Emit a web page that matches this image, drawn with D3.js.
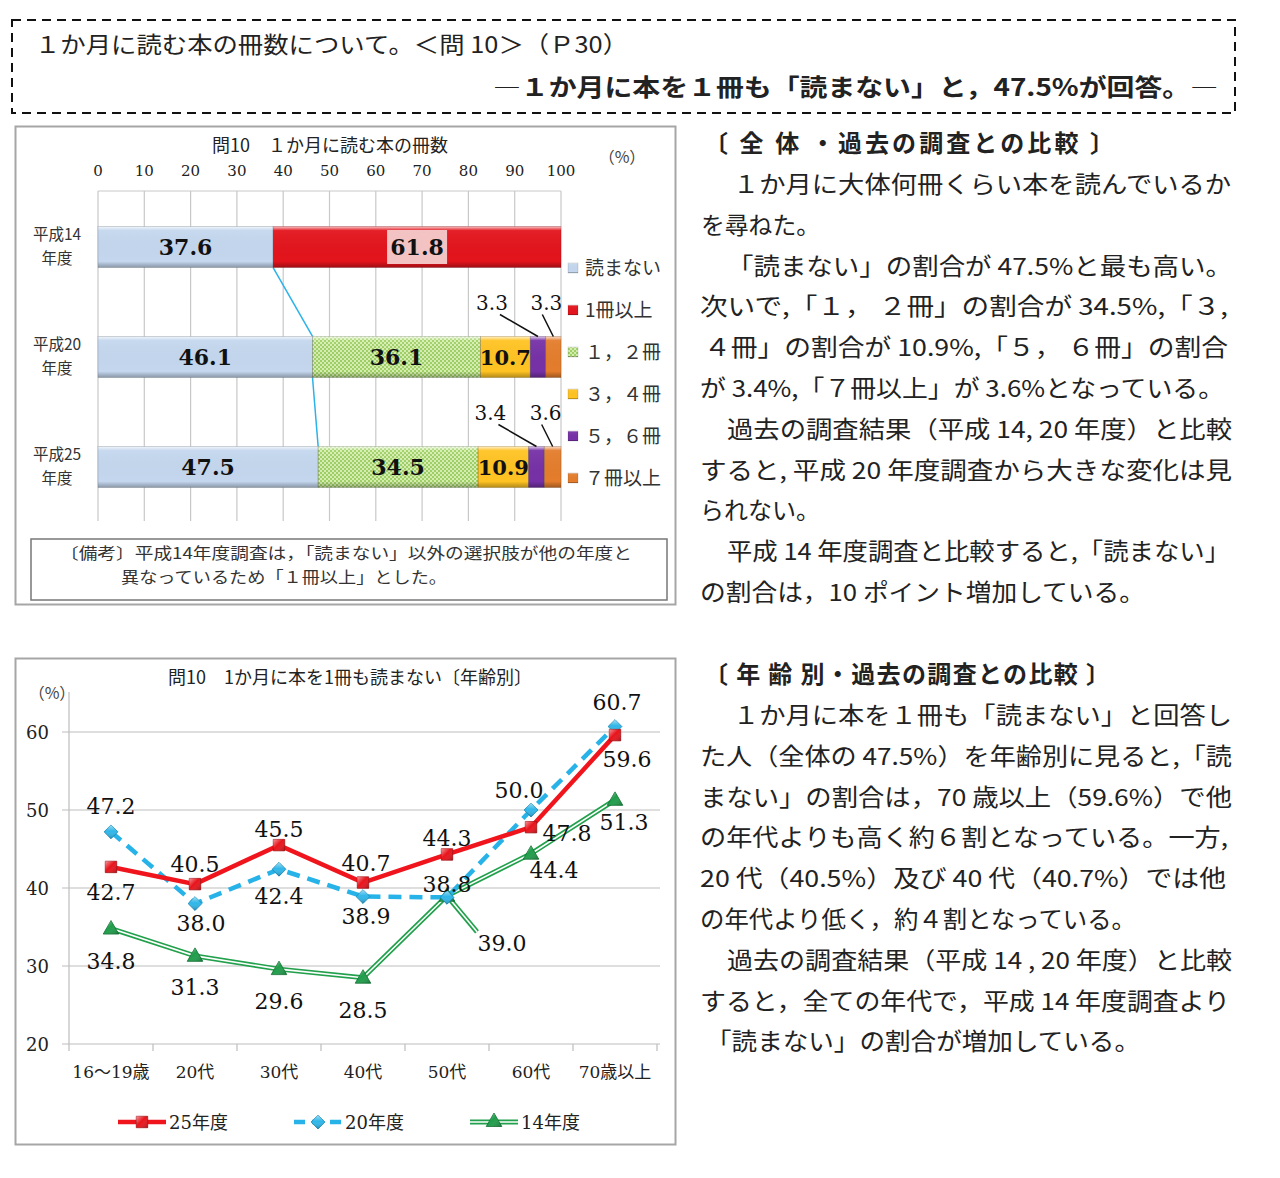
<!DOCTYPE html>
<html><head><meta charset="utf-8">
<script src="https://cdn.jsdelivr.net/npm/d3@7"></script>
<style>body{margin:0;background:#fff}</style>
</head><body>
<svg id="c" width="1280" height="1178" xmlns="http://www.w3.org/2000/svg"></svg>
<script>
// ---------------- data ----------------
const barYears = ["平成14", "平成20", "平成25"];
const barSeries = ["読まない", "1冊以上", "１，２冊", "３，４冊", "５，６冊", "７冊以上"];
const barH14 = [37.6, 61.8, 0, 0, 0, 0];
const barH20 = [46.1, 0, 36.1, 10.7, 3.3, 3.3];
const barH25 = [47.5, 0, 34.5, 10.9, 3.4, 3.6];
const barTicks = [0, 10, 20, 30, 40, 50, 60, 70, 80, 90, 100];

const ageGroups = ["16～19歳", "20代", "30代", "40代", "50代", "60代", "70歳以上"];
const lineSeries = ["25年度", "20年度", "14年度"];
const nonRead25 = [42.7, 40.5, 45.5, 40.7, 44.3, 47.8, 59.6];
const nonRead20 = [47.2, 38.0, 42.4, 38.9, 38.8, 50.0, 60.7];
const nonRead14 = [34.8, 31.3, 29.6, 28.5, 39.0, 44.4, 51.3];
const lineTicks = [20, 30, 40, 50, 60];

// ---------------- setup ----------------
const svg = d3.select("#c");
const JP = "'Noto Sans CJK JP','Noto Sans',sans-serif";
const SERIF = "'DejaVu Serif','Noto Sans CJK JP',serif";
const INK = "#222";
const defs = svg.append("defs");

const sh = defs.append("linearGradient").attr("id", "shade").attr("x1", 0).attr("y1", 0).attr("x2", 0).attr("y2", 1);
[[0, "#fff", 0.75], [0.1, "#fff", 0.05], [0.85, "#000", 0], [1, "#000", 0.3]].forEach(s =>
  sh.append("stop").attr("offset", s[0]).attr("stop-color", s[1]).attr("stop-opacity", s[2]));
const pat = defs.append("pattern").attr("id", "chk").attr("width", 4).attr("height", 4).attr("patternUnits", "userSpaceOnUse");
pat.append("rect").attr("width", 4).attr("height", 4).attr("fill", "#d6efb0");
pat.append("rect").attr("width", 2).attr("height", 2).attr("fill", "#9fd067");
pat.append("rect").attr("x", 2).attr("y", 2).attr("width", 2).attr("height", 2).attr("fill", "#9fd067");

const barColors = ["#c4d7ee", "#e3141c", "url(#chk)", "#ffc323", "#7631a6", "#e47d2c"];
const barRows = [barH14, barH20, barH25];

// ---------------- header ----------------
svg.append("rect").attr("x", 12).attr("y", 20).attr("width", 1223).attr("height", 93)
  .attr("fill", "none").attr("stroke", "#111").attr("stroke-width", 2).attr("stroke-dasharray", "9,6");
svg.append("text").attr("x", 35).attr("y", 53).attr("font-family", JP).attr("font-size", 23)
  .attr("fill", INK).attr("textLength", 593).attr("lengthAdjust", "spacingAndGlyphs")
  .text("１か月に読む本の冊数について。＜問 10＞（Ｐ30）");
svg.append("text").attr("x", 493).attr("y", 96).attr("font-family", JP).attr("font-size", 24)
  .attr("font-weight", "bold").attr("fill", INK).attr("textLength", 725).attr("lengthAdjust", "spacingAndGlyphs")
  .text("―１か月に本を１冊も「読まない」と，47.5%が回答。―");

// ---------------- top chart (100% stacked) ----------------
svg.append("rect").attr("x", 15.5).attr("y", 126.5).attr("width", 660).attr("height", 478)
  .attr("fill", "#fff").attr("stroke", "#a6a6a6").attr("stroke-width", 2);
svg.append("text").attr("x", 330).attr("y", 152).attr("text-anchor", "middle").attr("font-family", JP)
  .attr("font-size", 18).attr("fill", INK).text("問10　１か月に読む本の冊数");

const bx = d3.scaleLinear().domain([0, 100]).range([98, 561]);
const by = d3.scaleBand().domain(barYears).range([192, 522]).paddingInner(0.627).paddingOuter(0.3135);

const tg = svg.append("g");
tg.selectAll("line.grid").data(barTicks).join("line")
  .attr("x1", d => bx(d)).attr("x2", d => bx(d)).attr("y1", 191).attr("y2", 521)
  .attr("stroke", "#c8c8c8").attr("stroke-width", 1.2);
tg.selectAll("text.tick").data(barTicks).join("text")
  .attr("x", d => bx(d)).attr("y", 176).attr("text-anchor", "middle")
  .attr("font-family", SERIF).attr("font-size", 15).attr("fill", INK).text(d => d);
svg.append("line").attr("x1", bx(0)).attr("x2", bx(100)).attr("y1", 191).attr("y2", 191).attr("stroke", "#c8c8c8");
svg.append("text").attr("x", 622).attr("y", 163).attr("text-anchor", "middle").attr("font-family", JP)
  .attr("font-size", 16).attr("fill", "#444").text("（%）");

barYears.forEach(y => {
  const cy = by(y) + by.bandwidth() / 2;
  svg.append("text").attr("x", 57).attr("y", cy - 7).attr("text-anchor", "middle").attr("font-family", JP)
    .attr("font-size", 15.5).attr("fill", "#333").text(y);
  svg.append("text").attr("x", 57).attr("y", cy + 17).attr("text-anchor", "middle").attr("font-family", JP)
    .attr("font-size", 15.5).attr("fill", "#333").text("年度");
});

// stacked segments, normalised to 100%
const rowSegs = barRows.map(row => {
  const total = d3.sum(row);
  let cum = 0;
  return row.map((v, k) => { const s = { k, v, x0: cum / total * 100, x1: (cum + v) / total * 100 }; cum += v; return s; })
    .filter(s => s.v > 0);
});

// connector lines for 読まない
for (let i = 0; i < barRows.length - 1; i++) {
  svg.append("line")
    .attr("x1", bx(rowSegs[i][0].x1)).attr("y1", by(barYears[i]) + by.bandwidth())
    .attr("x2", bx(rowSegs[i + 1][0].x1)).attr("y2", by(barYears[i + 1]))
    .attr("stroke", "#2bb2ea").attr("stroke-width", 1.5);
}

rowSegs.forEach((segs, i) => {
  const yr = barYears[i];
  const g = svg.append("g");
  g.selectAll("rect.seg").data(segs).join("rect")
    .attr("x", s => bx(s.x0)).attr("y", by(yr)).attr("width", s => bx(s.x1) - bx(s.x0)).attr("height", by.bandwidth())
    .attr("fill", s => barColors[s.k]);
  g.selectAll("rect.sh").data(segs).join("rect")
    .attr("x", s => bx(s.x0)).attr("y", by(yr)).attr("width", s => bx(s.x1) - bx(s.x0)).attr("height", by.bandwidth())
    .attr("fill", "url(#shade)").attr("stroke", "rgba(0,0,0,0.18)").attr("stroke-width", 0.8);
  const cy = by(yr) + by.bandwidth() / 2;
  segs.forEach(s => {
    const mx = (bx(s.x0) + bx(s.x1)) / 2;
    if (s.v >= 5) {
      if (s.k === 1) {
        svg.append("rect").attr("x", mx - 30).attr("y", cy - 17).attr("width", 60).attr("height", 34).attr("fill", "#f3c3c3");
      }
      svg.append("text").attr("x", mx).attr("y", cy + 8).attr("text-anchor", "middle")
        .attr("font-family", SERIF).attr("font-weight", "bold").attr("font-size", s.v < 12 ? 21 : 22)
        .attr("fill", "#111").text(s.v.toFixed(1));
    } else {
      const lx = s.k === 4 ? mx - 46 : mx - 7;
      const ly = by(yr) - 26;
      svg.append("line").attr("x1", s.k === 4 ? lx + 8 : lx - 4).attr("y1", ly + 4).attr("x2", mx).attr("y2", by(yr))
        .attr("stroke", "#111").attr("stroke-width", 1.5);
      svg.append("text").attr("x", lx).attr("y", ly).attr("text-anchor", "middle")
        .attr("font-family", SERIF).attr("font-size", 20).attr("fill", "#111").text(s.v.toFixed(1));
    }
  });
});

barSeries.forEach((n, k) => {
  const y = 268 + k * 42;
  svg.append("rect").attr("x", 568).attr("y", y - 5).attr("width", 10).attr("height", 10).attr("fill", barColors[k]);
  svg.append("rect").attr("x", 568).attr("y", y - 5).attr("width", 10).attr("height", 10).attr("fill", "url(#shade)")
    .attr("stroke", "rgba(0,0,0,0.2)").attr("stroke-width", 0.6);
  svg.append("text").attr("x", 585).attr("y", y + 7).attr("font-family", JP).attr("font-size", 19)
    .attr("fill", "#333").text(n);
});

svg.append("rect").attr("x", 31).attr("y", 539).attr("width", 636).attr("height", 61)
  .attr("fill", "none").attr("stroke", "#777").attr("stroke-width", 1.5);
svg.append("text").attr("x", 60).attr("y", 559).attr("font-family", JP).attr("font-size", 15.5).attr("fill", "#333")
  .attr("textLength", 572).attr("lengthAdjust", "spacingAndGlyphs")
  .text("〔備考〕平成14年度調査は，「読まない」以外の選択肢が他の年度と");
svg.append("text").attr("x", 121).attr("y", 583).attr("font-family", JP).attr("font-size", 15.5).attr("fill", "#333")
  .attr("textLength", 326).attr("lengthAdjust", "spacingAndGlyphs")
  .text("異なっているため「１冊以上」とした。");

// ---------------- line chart ----------------
svg.append("rect").attr("x", 15.5).attr("y", 658.5).attr("width", 660).attr("height", 486)
  .attr("fill", "#fff").attr("stroke", "#a6a6a6").attr("stroke-width", 2);
svg.append("text").attr("x", 350).attr("y", 684).attr("text-anchor", "middle").attr("font-family", JP)
  .attr("font-size", 18).attr("fill", INK).text("問10　1か月に本を1冊も読まない〔年齢別〕");
svg.append("text").attr("x", 52).attr("y", 699).attr("text-anchor", "middle").attr("font-family", JP)
  .attr("font-size", 16).attr("fill", "#444").text("（%）");

const lx = d3.scaleBand().domain(ageGroups).range([69, 657]);
const ly = d3.scaleLinear().domain([20, 60]).range([1044, 732]);
const cx = d => lx(d) + lx.bandwidth() / 2;

svg.selectAll("line.hg").data(lineTicks.filter(t => t > 20)).join("line")
  .attr("x1", 62).attr("x2", 660).attr("y1", d => ly(d)).attr("y2", d => ly(d))
  .attr("stroke", "#bdbdbd").attr("stroke-width", 1.2);
svg.append("line").attr("x1", 69).attr("x2", 69).attr("y1", 692).attr("y2", 1044).attr("stroke", "#bdbdbd").attr("stroke-width", 1.2);
svg.append("line").attr("x1", 62).attr("x2", 660).attr("y1", 1044).attr("y2", 1044).attr("stroke", "#bdbdbd").attr("stroke-width", 1.2);
svg.selectAll("line.xt").data(ageGroups.concat(["_end"])).join("line")
  .attr("x1", (d, i) => 69 + i * lx.step()).attr("x2", (d, i) => 69 + i * lx.step())
  .attr("y1", 1044).attr("y2", 1051).attr("stroke", "#bdbdbd").attr("stroke-width", 1.2);
svg.selectAll("text.yl").data(lineTicks).join("text")
  .attr("x", 49).attr("y", d => ly(d) + 7).attr("text-anchor", "end")
  .attr("font-family", SERIF).attr("font-size", 18).attr("fill", INK).text(d => d);
svg.selectAll("text.xl").data(ageGroups).join("text")
  .attr("x", d => cx(d)).attr("y", 1078).attr("text-anchor", "middle")
  .attr("font-family", SERIF).attr("font-size", 17).attr("fill", INK).text(d => d);

const line = d3.line().x((d, i) => cx(ageGroups[i])).y(d => ly(d));

const g14 = svg.append("g");
g14.append("path").attr("d", line(nonRead14)).attr("fill", "none").attr("stroke", "#22a04c").attr("stroke-width", 5);
g14.append("path").attr("d", line(nonRead14)).attr("fill", "none").attr("stroke", "#fff").attr("stroke-width", 1.6);
const p50x = cx(ageGroups[4]), p50y = ly(nonRead14[4]);
g14.append("line").attr("x1", p50x).attr("y1", p50y).attr("x2", p50x + 30).attr("y2", p50y + 36).attr("stroke", "#22a04c").attr("stroke-width", 5);
g14.append("line").attr("x1", p50x).attr("y1", p50y).attr("x2", p50x + 30).attr("y2", p50y + 36).attr("stroke", "#fff").attr("stroke-width", 1.6);

svg.append("path").attr("d", line(nonRead20)).attr("fill", "none").attr("stroke", "#27b2e8")
  .attr("stroke-width", 4.5).attr("stroke-dasharray", "13,8");
svg.append("path").attr("d", line(nonRead25)).attr("fill", "none").attr("stroke", "#f0141c").attr("stroke-width", 4.5);

const mk = defs.append("linearGradient").attr("id", "mshade").attr("x1", 0).attr("y1", 0).attr("x2", 1).attr("y2", 1);
[[0, "#fff", 0.55], [0.45, "#fff", 0], [1, "#000", 0.25]].forEach(s =>
  mk.append("stop").attr("offset", s[0]).attr("stop-color", s[1]).attr("stop-opacity", s[2]));

function drawMarker(g, type, x, y) {
  let sym, fill, stroke, rot = 0;
  if (type === 0) { sym = d3.symbol(d3.symbolSquare, 130); fill = "#e8141c"; stroke = "#a50d12"; }
  else if (type === 1) { sym = d3.symbol(d3.symbolSquare, 95); fill = "#2fb6e8"; stroke = "#1586b5"; rot = 45; }
  else { sym = d3.symbol(d3.symbolTriangle, 105); fill = "#1f9d4a"; stroke = "#0f6e30"; }
  const tr = `translate(${x},${y}) rotate(${rot})`;
  g.append("path").attr("d", sym()).attr("transform", tr).attr("fill", fill)
    .attr("stroke", stroke).attr("stroke-width", 0.8);
  g.append("path").attr("d", sym()).attr("transform", tr).attr("fill", "url(#mshade)");
}
const allSeries = [nonRead25, nonRead20, nonRead14];
const mg = svg.append("g");
[2, 1, 0].forEach(s => allSeries[s].forEach((v, i) => drawMarker(mg, s, cx(ageGroups[i]), ly(v) + (s === 2 ? 1 : 0))));

const labelOffsets = [
  [[0, 25], [0, -20], [0, -16], [3, -20], [0, -16], [36, 6], [12, 24]],
  [[0, -26], [6, 19], [0, 27], [3, 19], [0, -13], [-12, -20], [2, -25]],
  [[0, 32], [0, 31], [0, 32], [0, 32], [55, 47], [23, 16], [9, 22]]
];
allSeries.forEach((ser, s) => ser.forEach((v, i) => {
  const o = labelOffsets[s][i];
  svg.append("text").attr("x", cx(ageGroups[i]) + o[0]).attr("y", ly(v) + o[1] + 8)
    .attr("text-anchor", "middle").attr("font-family", SERIF).attr("font-size", 22).attr("fill", "#111")
    .text(v.toFixed(1));
}));

const legX = [118, 294, 470];
lineSeries.forEach((n, s) => {
  const x0 = legX[s], y0 = 1122;
  if (s === 2) {
    svg.append("line").attr("x1", x0).attr("x2", x0 + 48).attr("y1", y0).attr("y2", y0).attr("stroke", "#22a04c").attr("stroke-width", 5);
    svg.append("line").attr("x1", x0).attr("x2", x0 + 48).attr("y1", y0).attr("y2", y0).attr("stroke", "#fff").attr("stroke-width", 1.6);
  } else {
    svg.append("line").attr("x1", x0).attr("x2", x0 + 48).attr("y1", y0).attr("y2", y0)
      .attr("stroke", s === 0 ? "#f0141c" : "#27b2e8").attr("stroke-width", 4.5)
      .attr("stroke-dasharray", s === 1 ? "11,7" : null);
  }
  drawMarker(svg, s, x0 + 24, y0);
  svg.append("text").attr("x", x0 + 51).attr("y", y0 + 7).attr("font-family", SERIF).attr("font-size", 18)
    .attr("fill", INK).text(n);
});

// ---------------- right-hand text ----------------
function heading(txt, y, w) {
  svg.append("text").attr("x", 704).attr("y", y).attr("font-family", JP).attr("font-size", 24)
    .attr("font-weight", "bold").attr("fill", INK).attr("textLength", w).attr("lengthAdjust", "spacing").text(txt);
}
function body(lines, y0) {
  lines.forEach((l, i) => {
    svg.append("text").attr("x", l[1]).attr("y", y0 + i * 40.8).attr("font-family", JP).attr("font-size", 23.5)
      .attr("fill", INK).attr("textLength", l[2] - l[1]).attr("lengthAdjust", "spacingAndGlyphs").text(l[0]);
  });
}
heading("〔 全 体 ・過去の調査との比較 〕", 152, 410);
body([
  ["１か月に大体何冊くらい本を読んでいるか", 733, 1231],
  ["を尋ねた。", 701, 820],
  ["「読まない」の割合が 47.5%と最も高い。", 727, 1232],
  ["次いで,「１， ２冊」の割合が 34.5%,「３,", 700, 1228],
  ["４冊」の割合が 10.9%,「５， ６冊」の割合", 704, 1228],
  ["が 3.4%,「７冊以上」が 3.6%となっている。", 700, 1224],
  ["過去の調査結果（平成 14, 20 年度）と比較", 727, 1232],
  ["すると, 平成 20 年度調査から大きな変化は見", 700, 1232],
  ["られない。", 700, 820],
  ["平成 14 年度調査と比較すると,「読まない」", 727, 1230],
  ["の割合は，10 ポイント増加している。", 700, 1145]
], 193);
heading("〔 年 齢 別・過去の調査との比較 〕", 683, 406);
body([
  ["１か月に本を１冊も「読まない」と回答し", 733, 1232],
  ["た人（全体の 47.5%）を年齢別に見ると,「読", 700, 1232],
  ["まない」の割合は，70 歳以上（59.6%）で他", 700, 1232],
  ["の年代よりも高く約６割となっている。一方,", 700, 1228],
  ["20 代（40.5%）及び 40 代（40.7%）では他", 700, 1226],
  ["の年代より低く，約４割となっている。", 700, 1136],
  ["過去の調査結果（平成 14 , 20 年度）と比較", 727, 1232],
  ["すると，全ての年代で，平成 14 年度調査より", 700, 1230],
  ["「読まない」の割合が増加している。", 706, 1140]
], 724);
</script>
</body></html>
